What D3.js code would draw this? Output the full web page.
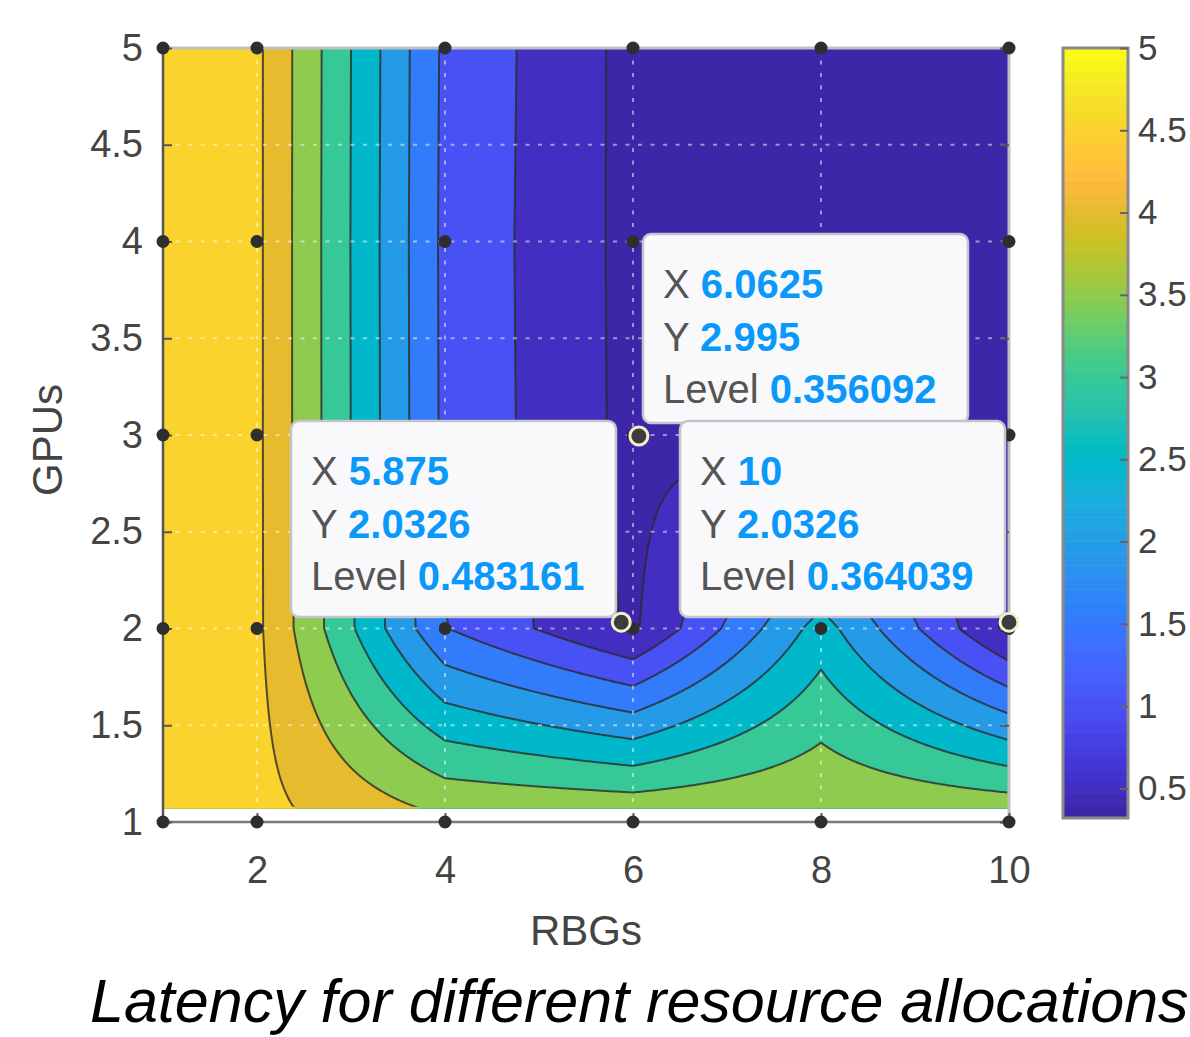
<!DOCTYPE html>
<html>
<head>
<meta charset="utf-8">
<script src="https://cdn.jsdelivr.net/npm/d3@7"></script>
<style>
  body { margin: 0; background: #fff; }
  svg { display: block; font-family: "Liberation Sans", Arial, sans-serif; }
</style>
</head>
<body>
<div id="chart"></div>
<script>
// measured grid (RBGs x GPUs)
const rbgs = [1, 2, 4, 6, 8, 10];
const gpus = [1, 2, 3, 4, 5];
// rows of the latency surface, bottom to top (lowest row sits just above 1)
const gpuRows = [1.07, 2, 3, 4, 5];
const latency = [
  [5.0, 4.65, 3.9,  3.8,   3.95, 3.8 ],
  [5.0, 4.6,  1.52, 0.42,  2.72, 0.38],
  [5.0, 4.6,  1.39, 0.356, 0.36, 0.37],
  [5.0, 4.6,  1.38, 0.35,  0.32, 0.34],
  [5.0, 4.6,  1.40, 0.35,  0.34, 0.33]
];
const levels = [0.5, 1, 1.5, 2, 2.5, 3, 3.5, 4, 4.5];
const xTicks = [2, 4, 6, 8, 10];
const yTicks = [1, 1.5, 2, 2.5, 3, 3.5, 4, 4.5, 5];
const cbTicks = [0.5, 1, 1.5, 2, 2.5, 3, 3.5, 4, 4.5, 5];
// data tips
const tipX = [6.0625, 5.875, 10];
const tipY = [2.995, 2.0326, 2.0326];
const tipLevel = ["0.356092", "0.483161", "0.364039"];

// parula, 64 entries
const parula = ["#3e26a8","#402ab4","#422ec0","#4332cb","#4537d5","#463cde","#4741e5","#4747eb",
  "#484df0","#4852f4","#4758f8","#465efb","#4563fd","#4269fe","#3e6fff","#3875fe",
  "#327cfc","#2f81fa","#2e87f7","#2d8cf3","#2b91ef","#2796eb","#259be8","#23a0e5",
  "#20a5e3","#1ca9df","#18addb","#12b1d6","#08b5d0","#01b8ca","#02bac3","#0bbdbd",
  "#19bfb6","#24c1ae","#2cc4a7","#31c69f","#37c897","#3fca8e","#4acb84","#57cc7a",
  "#64cd6f","#72cd64","#81cc59","#8fcb4e","#9dc943","#abc739","#b9c431","#c5c22a",
  "#d1bf27","#dcbd29","#e6bb2d","#f0ba36","#f8ba3d","#febe3c","#fec338","#fec834",
  "#fcce30","#fad42d","#f7da2a","#f5e027","#f5e724","#f6ed20","#f7f41b","#f9fb15"];

const W = 1190, H = 1037;
const svg = d3.select("#chart").append("svg")
    .attr("width", W)
    .attr("height", H);

const x = d3.scaleLinear().domain([1, 10]).range([163, 1009]);
const y = d3.scaleLinear().domain([1, 5]).range([822, 48]);

const zExtent = d3.extent(latency.flat());
const color = d3.scaleQuantize().domain(zExtent).range(parula);

// sample the bilinear surface on a fine pixel grid for the contour fill
function surface(u, v) {
  const i = Math.min(Math.max(d3.bisectRight(rbgs, u) - 1, 0), rbgs.length - 2);
  const j = Math.min(Math.max(d3.bisectRight(gpuRows, v) - 1, 0), gpuRows.length - 2);
  const tx = Math.min(Math.max((u - rbgs[i]) / (rbgs[i + 1] - rbgs[i]), 0), 1);
  const ty = Math.min(Math.max((v - gpuRows[j]) / (gpuRows[j + 1] - gpuRows[j]), 0), 1);
  const a = latency[j][i], b = latency[j][i + 1], c = latency[j + 1][i], d = latency[j + 1][i + 1];
  return a * (1 - tx) * (1 - ty) + b * tx * (1 - ty) + c * (1 - tx) * ty + d * tx * ty;
}

const step = 2;
const x0 = x(rbgs[0]), x1 = x(rbgs[rbgs.length - 1]);
const yTop = y(gpuRows[gpuRows.length - 1]), yBot = y(gpuRows[0]);
const nx = Math.round((x1 - x0) / step) + 1;
const ny = Math.round((yBot - yTop) / step) + 1;
const sx = (x1 - x0) / (nx - 1), sy = (yBot - yTop) / (ny - 1);
const values = new Array(nx * ny);
for (let r = 0; r < ny; r++) {
  for (let k = 0; k < nx; k++) {
    values[r * nx + k] = surface(x.invert(x0 + k * sx), y.invert(yTop + r * sy));
  }
}

const bands = d3.contours().size([nx, ny]).thresholds(levels)(values);
const path = d3.geoPath(d3.geoTransform({
  point: function(px, py) { this.stream.point(x0 + (px - 0.5) * sx, yTop + (py - 0.5) * sy); }
}));

const defs = svg.append("defs");
defs.append("clipPath").attr("id", "fillClip").append("rect")
    .attr("x", x0).attr("y", yTop).attr("width", x1 - x0).attr("height", yBot - yTop);
defs.append("clipPath").attr("id", "lineClip").append("rect")
    .attr("x", x0 + 1.6).attr("y", yTop + 1.6).attr("width", x1 - x0 - 3.2).attr("height", yBot - yTop - 3.2);

const fillG = svg.append("g").attr("clip-path", "url(#fillClip)");
fillG.append("rect")
    .attr("x", x0).attr("y", yTop).attr("width", x1 - x0).attr("height", yBot - yTop)
    .attr("fill", color(zExtent[0]));
fillG.selectAll("path")
  .data(bands)
  .join("path")
    .attr("d", path)
    .attr("fill", d => color(d.value));

svg.append("g").attr("clip-path", "url(#lineClip)")
  .selectAll("path")
  .data(bands)
  .join("path")
    .attr("d", path)
    .attr("fill", "none")
    .attr("stroke", "#2b2b2b")
    .attr("stroke-opacity", 0.8)
    .attr("stroke-width", 2)
    .attr("stroke-linejoin", "round");

// dotted grid
const grid = svg.append("g")
    .attr("stroke", "#fff")
    .attr("stroke-opacity", 0.5)
    .attr("stroke-width", 2)
    .attr("stroke-dasharray", "4,8.5");
grid.selectAll(".gx")
  .data(xTicks.filter(d => d < 10))
  .join("line")
    .attr("x1", d => x(d)).attr("x2", d => x(d))
    .attr("y1", y(5)).attr("y2", y(1));
grid.selectAll(".gy")
  .data(yTicks.filter(d => d > 1 && d < 5))
  .join("line")
    .attr("x1", x(1)).attr("x2", x(10))
    .attr("y1", d => y(d)).attr("y2", d => y(d));

// box
svg.append("line").attr("x1", x(1)).attr("x2", x(10)).attr("y1", y(5)).attr("y2", y(5))
    .attr("stroke", "#bfbfbf").attr("stroke-width", 3);
svg.append("line").attr("x1", x(10)).attr("x2", x(10)).attr("y1", y(5)).attr("y2", y(1))
    .attr("stroke", "#bfbfbf").attr("stroke-width", 3);
svg.append("line").attr("x1", x(1)).attr("x2", x(10)).attr("y1", y(1)).attr("y2", y(1))
    .attr("stroke", "#7a7a7a").attr("stroke-width", 2.5);
svg.append("line").attr("x1", x(1)).attr("x2", x(1)).attr("y1", y(5)).attr("y2", y(1))
    .attr("stroke", "#555").attr("stroke-width", 2.5);

// axes
const yAxis = svg.append("g")
    .attr("transform", `translate(${x(1)},0)`)
    .call(d3.axisLeft(y).tickValues(yTicks).tickSize(-9).tickPadding(20).tickFormat(d => String(d)));
const xAxis = svg.append("g")
    .attr("transform", `translate(0,${y(1)})`)
    .call(d3.axisBottom(x).tickValues(xTicks).tickSize(-9).tickPadding(34).tickFormat(d => String(d)));
svg.append("g")
    .attr("transform", `translate(${x(10)},0)`)
    .call(d3.axisRight(y).tickValues(yTicks).tickSize(-9).tickFormat(""));
[yAxis, xAxis].forEach(g => {
  g.select(".domain").remove();
  g.selectAll("text").attr("fill", "#444").attr("font-size", 38).attr("font-family", "Liberation Sans, Arial, sans-serif");
});
svg.selectAll(".tick line").attr("stroke", "#555").attr("stroke-width", 2);
svg.selectAll(".domain").remove();

svg.append("text")
    .attr("x", 586).attr("y", 945)
    .attr("text-anchor", "middle")
    .attr("font-size", 42)
    .attr("fill", "#444")
    .text("RBGs");
svg.append("text")
    .attr("transform", "translate(62,440) rotate(-90)")
    .attr("text-anchor", "middle")
    .attr("font-size", 42)
    .attr("fill", "#444")
    .text("GPUs");

// measurement points
const pts = gpus.flatMap(g => rbgs.map(r => [r, g]));
svg.append("g").selectAll("circle")
  .data(pts)
  .join("circle")
    .attr("cx", d => x(d[0]))
    .attr("cy", d => y(d[1]))
    .attr("r", 6.5)
    .attr("fill", "#2e2e2e");

// colorbar
const cb = d3.scaleLinear().domain(zExtent).range([818, 48]);
const cbG = svg.append("g");
cbG.selectAll("rect")
  .data(parula)
  .join("rect")
    .attr("x", 1063)
    .attr("width", 65)
    .attr("y", c => cb(color.invertExtent(c)[1]))
    .attr("height", c => cb(color.invertExtent(c)[0]) - cb(color.invertExtent(c)[1]) + 0.5)
    .attr("fill", c => c);
cbG.append("rect")
    .attr("x", 1063).attr("y", 48).attr("width", 65).attr("height", 770)
    .attr("fill", "none").attr("stroke", "#8a8a8a").attr("stroke-width", 3);
const cbAxis = svg.append("g")
    .attr("transform", "translate(1128,0)")
    .call(d3.axisRight(cb).tickValues(cbTicks).tickSize(-8).tickPadding(10).tickFormat(d => String(d)));
cbAxis.select(".domain").remove();
cbAxis.selectAll("line").attr("stroke", "#666").attr("stroke-width", 2);
cbAxis.selectAll("text").attr("fill", "#444").attr("font-size", 35).attr("font-family", "Liberation Sans, Arial, sans-serif");

// data tip boxes
const tipBoxes = [
  {x: 643, y: 234, w: 325, h: 189},
  {x: 291, y: 421, w: 325, h: 196},
  {x: 680, y: 421, w: 325, h: 196}
];
tipBoxes.forEach((b, i) => {
  const g = svg.append("g");
  g.append("rect")
      .attr("x", b.x).attr("y", b.y).attr("width", b.w).attr("height", b.h)
      .attr("rx", 8)
      .attr("fill", "#f9f9fc")
      .attr("stroke", "#c4c4cc")
      .attr("stroke-width", 2.5);
  const rows = [["X", String(tipX[i])], ["Y", String(tipY[i])], ["Level", tipLevel[i]]];
  rows.forEach((row, k) => {
    const t = g.append("text")
        .attr("x", b.x + 20)
        .attr("y", b.y + 64 + k * 52.5)
        .attr("font-size", 40);
    t.append("tspan").attr("fill", "#555").text(row[0] + " ");
    t.append("tspan").attr("fill", "#0a99fa").attr("font-weight", "bold").text(row[1]);
  });
});

svg.append("g").selectAll("circle")
  .data(tipX)
  .join("circle")
    .attr("cx", (d, i) => x(d))
    .attr("cy", (d, i) => y(tipY[i]))
    .attr("r", 9)
    .attr("fill", "#3c3c3c")
    .attr("stroke", "#f2f0cc")
    .attr("stroke-width", 3);

svg.append("text")
    .attr("x", 90).attr("y", 1022)
    .attr("font-size", 61)
    .attr("font-style", "italic")
    .attr("fill", "#000")
    .text("Latency for different resource allocations");
</script>
</body>
</html>
